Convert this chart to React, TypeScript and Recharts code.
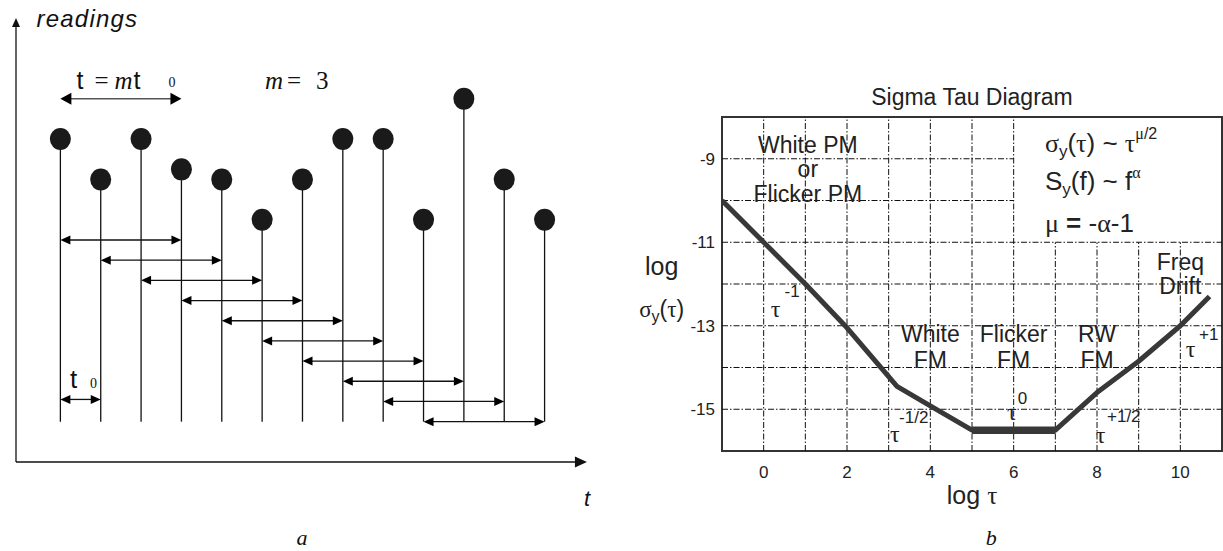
import React from 'react';
import {
  ComposedChart,
  Scatter,
  Line,
  XAxis,
  YAxis,
  ReferenceLine,
  ReferenceDot,
  ReferenceArea,
} from 'recharts';

// ---------------- panel a : readings ----------------
const sampleIndex = [0, 1, 2, 3, 4, 5, 6, 7, 8, 9, 10, 11, 12];
const readings = [8, 7, 8, 7.25, 7, 6, 7, 8, 8, 6, 9, 7, 6];
const stemBase = 1;
const spanLevels = [5.5, 5, 4.5, 4, 3.5, 3, 2.5, 2, 1.5, 1];
const m = 3;
const tau0Level = 1.55;
const tauLevel = 9;
const axisAX = [-1.1, 13.05];
const axisAY = [0, 11];

// ---------------- panel b : sigma tau ----------------
const logTau = [-1, 0, 1, 2, 3.2, 4, 5, 7, 8, 9, 10, 10.7];
const logSigma = [-10, -11, -12, -13.05, -14.45, -14.92, -15.5, -15.5, -14.6, -13.85, -13, -12.3];
const flatTau = [5, 7];
const flatSigma = [-15.5, -15.5];
const xTicks = [0, 2, 4, 6, 8, 10];
const yTicks = [-15, -13, -11, -9];
const gridXFull = [0, 1, 2, 3, 4, 5, 6];
const gridXLower = [7, 8, 9, 10];
const gridYFull = [-11, -12, -13, -14, -15];
const gridYLeft = [-9, -10];
const xDomainB = [-1, 11];
const yDomainB = [-16, -8];

const SANS = '"Liberation Sans", Arial, sans-serif';
const SERIF = '"Liberation Serif", "Times New Roman", serif';

const dotsA = sampleIndex.map((i) => ({ x: i, y: readings[i] }));
const curveB = logTau.map((t, i) => ({ x: t, y: logSigma[i] }));
const flatB = flatTau.map((t, i) => ({ x: t, y: flatSigma[i] }));

// regime labels (data coordinates: log tau, log sigma)
const regimeLabels = [
  { x: 1.06, y: -8.855, text: 'White PM' },
  { x: 1.06, y: -9.43, text: 'or' },
  { x: 1.06, y: -10.03, text: 'Flicker PM' },
  { x: 4, y: -13.38, text: 'White' },
  { x: 4, y: -14.01, text: 'FM' },
  { x: 6, y: -13.38, text: 'Flicker' },
  { x: 6, y: -14.01, text: 'FM' },
  { x: 8, y: -13.38, text: 'RW' },
  { x: 8, y: -14.01, text: 'FM' },
  { x: 10, y: -11.66, text: 'Freq' },
  { x: 10, y: -12.24, text: 'Drift' },
];

const slopeLabels = [
  { tx: 0.17, ty: -12.78, ex: 0.5, ey: -12.3, exp: '-1' },
  { tx: 3.03, ty: -15.78, ex: 3.25, ey: -15.32, exp: '-1/2' },
  { tx: 5.84, ty: -15.26, ex: 6.1, ey: -14.87, exp: '0' },
  { tx: 7.97, ty: -15.81, ex: 8.24, ey: -15.3, exp: '+1/2' },
  { tx: 10.13, ty: -13.74, ex: 10.45, ey: -13.34, exp: '+1' },
];

const hArrow = (color: string, width: number, head: number, half: number) => (p: any) => {
  const a = Math.min(p.x1, p.x2);
  const b = Math.max(p.x1, p.x2);
  const y = p.y1;
  return (
    <g>
      <line x1={a + head - 1} y1={y} x2={b - head + 1} y2={y} stroke={color} strokeWidth={width} />
      <polygon points={`${a},${y} ${a + head},${y - half} ${a + head},${y + half}`} fill="#000" />
      <polygon points={`${b},${y} ${b - head},${y - half} ${b - head},${y + half}`} fill="#000" />
    </g>
  );
};

const rightArrow = (color: string, width: number, head: number, half: number) => (p: any) => {
  const a = Math.min(p.x1, p.x2);
  const b = Math.max(p.x1, p.x2);
  const y = p.y1;
  return (
    <g>
      <line x1={a} y1={y} x2={b - head + 1} y2={y} stroke={color} strokeWidth={width} />
      <polygon points={`${b},${y} ${b - head},${y - half} ${b - head},${y + half}`} fill={color} />
    </g>
  );
};

const upArrow = (color: string, width: number, head: number, half: number) => (p: any) => {
  const top = Math.min(p.y1, p.y2);
  const bot = Math.max(p.y1, p.y2);
  const x = p.x1;
  return (
    <g>
      <line x1={x} y1={bot} x2={x} y2={top + head - 1} stroke={color} strokeWidth={width} />
      <polygon points={`${x},${top} ${x - half},${top + head} ${x + half},${top + head}`} fill={color} />
    </g>
  );
};

const note = (render: (cx: number, cy: number) => React.ReactNode) => (p: any) => (
  <g>{render(p.cx, p.cy)}</g>
);

function PanelA() {
  return (
    <ComposedChart
      width={620}
      height={551}
      margin={{ top: 18, right: 27, bottom: 89, left: 16 }}
      data={dotsA}
    >
      <XAxis dataKey="x" type="number" domain={[-1.1, 13.2]} allowDataOverflow hide height={0} />
      <YAxis dataKey="y" type="number" domain={[0, 11]} allowDataOverflow hide width={0} />

      {/* axes with arrows */}
      <ReferenceLine
        ifOverflow="visible"
        segment={[{ x: axisAX[0], y: axisAY[0] }, { x: axisAX[0], y: axisAY[1] }]}
        shape={upArrow('#111', 1.3, 9, 4)}
      />
      <ReferenceLine
        ifOverflow="visible"
        segment={[{ x: axisAX[0], y: axisAY[0] }, { x: axisAX[1], y: axisAY[0] }]}
        shape={rightArrow('#111', 1.3, 12, 5.5)}
      />

      {/* stems */}
      {sampleIndex.map((i) => (
        <ReferenceLine
          key={'s' + i}
          ifOverflow="visible"
          segment={[{ x: i, y: stemBase }, { x: i, y: readings[i] }]}
          stroke="#111"
          strokeWidth={1.3}
        />
      ))}

      {/* overlapping spans of m samples */}
      {spanLevels.map((lv, i) => (
        <ReferenceLine
          key={'a' + i}
          ifOverflow="visible"
          segment={[{ x: i, y: lv }, { x: i + m, y: lv }]}
          shape={hArrow('#111', 1.3, 10, 4.5)}
        />
      ))}

      {/* tau0 arrow */}
      <ReferenceLine
        ifOverflow="visible"
        segment={[{ x: 0, y: tau0Level }, { x: 1, y: tau0Level }]}
        shape={hArrow('#111', 1.3, 10, 4.5)}
      />
      {/* tau = m tau0 arrow */}
      <ReferenceLine
        ifOverflow="visible"
        segment={[{ x: 0, y: tauLevel }, { x: m, y: tauLevel }]}
        shape={hArrow('#555', 1.6, 11, 6)}
      />

      <Scatter
        data={dotsA}
        dataKey="y"
        isAnimationActive={false}
        shape={(p: any) => <ellipse cx={p.cx} cy={p.cy} rx={10.5} ry={11} fill="#1a1a1a" />}
      />

      {/* texts */}
      <ReferenceDot
        x={-0.59}
        y={10.77}
        r={0}
        ifOverflow="visible"
        shape={note((cx, cy) => (
          <text x={cx} y={cy} fontFamily={SANS} fontStyle="italic" fontSize={24} letterSpacing={1.2} fill="#111">
            readings
          </text>
        ))}
      />
      <ReferenceDot
        x={0.4}
        y={9.24}
        r={0}
        ifOverflow="visible"
        shape={note((cx, cy) => (
          <g fill="#111">
            <text x={cx} y={cy} fontFamily={SANS} fontSize={25}>t</text>
            <text x={cx + 18} y={cy} fontFamily={SERIF} fontSize={25}>=</text>
            <text x={cx + 38} y={cy} fontFamily={SERIF} fontStyle="italic" fontSize={25}>m</text>
            <text x={cx + 57} y={cy} fontFamily={SANS} fontSize={25}>t</text>
            <text x={cx + 92} y={cy - 2} fontFamily={SERIF} fontSize={14}>0</text>
          </g>
        ))}
      />
      <ReferenceDot
        x={5.07}
        y={9.24}
        r={0}
        ifOverflow="visible"
        shape={note((cx, cy) => (
          <g fill="#111" fontFamily={SERIF} fontSize={25}>
            <text x={cx} y={cy} fontStyle="italic">m</text>
            <text x={cx + 22} y={cy}>=</text>
            <text x={cx + 51} y={cy}>3</text>
          </g>
        ))}
      />
      <ReferenceDot
        x={0.24}
        y={1.83}
        r={0}
        ifOverflow="visible"
        shape={note((cx, cy) => (
          <g fill="#111">
            <text x={cx} y={cy} fontFamily={SANS} fontSize={26}>t</text>
            <text x={cx + 20} y={cy} fontFamily={SERIF} fontSize={14}>0</text>
          </g>
        ))}
      />
      <ReferenceDot
        x={13.05}
        y={-1.09}
        r={0}
        ifOverflow="visible"
        shape={note((cx, cy) => (
          <text x={cx} y={cy} textAnchor="middle" fontFamily={SANS} fontStyle="italic" fontSize={22} fill="#111">
            t
          </text>
        ))}
      />
      <ReferenceDot
        x={5.99}
        y={-2.06}
        r={0}
        ifOverflow="visible"
        shape={note((cx, cy) => (
          <text x={cx} y={cy} textAnchor="middle" fontFamily={SERIF} fontStyle="italic" fontSize={22} fill="#111">
            a
          </text>
        ))}
      />
    </ComposedChart>
  );
}

const gridStyle = { stroke: '#111', strokeWidth: 1, strokeDasharray: '6 2 1.5 2' };

function PanelB() {
  return (
    <ComposedChart width={623} height={551} margin={{ top: 117, right: 1, bottom: 0, left: 0 }}>
      <XAxis
        dataKey="x"
        type="number"
        domain={xDomainB}
        ticks={xTicks}
        allowDataOverflow
        height={100}
        axisLine={false}
        tickLine={false}
        tickSize={0}
        tickMargin={15}
        tick={{ fontFamily: SANS, fontSize: 17, fill: '#222' }}
      />
      <YAxis
        type="number"
        domain={yDomainB}
        ticks={yTicks}
        allowDataOverflow
        width={122}
        axisLine={false}
        tickLine={false}
        tickSize={0}
        tickMargin={7}
        tick={{ fontFamily: SANS, fontSize: 17, fill: '#222' }}
      />

      {/* dash-dot grid */}
      {gridXFull.map((x) => (
        <ReferenceLine key={'gx' + x} ifOverflow="visible" segment={[{ x, y: yDomainB[0] }, { x, y: yDomainB[1] }]} {...gridStyle} />
      ))}
      {gridXLower.map((x) => (
        <ReferenceLine key={'gl' + x} ifOverflow="visible" segment={[{ x, y: yDomainB[0] }, { x, y: -11 }]} {...gridStyle} />
      ))}
      {gridYFull.map((y) => (
        <ReferenceLine key={'gy' + y} ifOverflow="visible" segment={[{ x: xDomainB[0], y }, { x: xDomainB[1], y }]} {...gridStyle} />
      ))}
      {gridYLeft.map((y) => (
        <ReferenceLine key={'gt' + y} ifOverflow="visible" segment={[{ x: xDomainB[0], y }, { x: 6, y }]} {...gridStyle} />
      ))}

      <ReferenceArea
        x1={xDomainB[0]}
        x2={xDomainB[1]}
        y1={yDomainB[0]}
        y2={yDomainB[1]}
        ifOverflow="visible"
        fill="none"
        fillOpacity={0}
        stroke="#333"
        strokeWidth={2}
      />

      <Line
        data={curveB}
        dataKey="y"
        type="linear"
        stroke="#383838"
        strokeWidth={5}
        strokeLinejoin="round"
        dot={false}
        activeDot={false}
        isAnimationActive={false}
      />
      <Line
        data={flatB}
        dataKey="y"
        type="linear"
        stroke="#383838"
        strokeWidth={7.5}
        dot={false}
        activeDot={false}
        isAnimationActive={false}
      />

      {/* title */}
      <ReferenceDot
        x={5}
        y={-7.71}
        r={0}
        ifOverflow="visible"
        shape={note((cx, cy) => (
          <text x={cx} y={cy} textAnchor="middle" fontFamily={SANS} fontSize={23} fill="#222">
            Sigma Tau Diagram
          </text>
        ))}
      />

      {/* regime labels */}
      {regimeLabels.map((l, i) => (
        <ReferenceDot
          key={'r' + i}
          x={l.x}
          y={l.y}
          r={0}
          ifOverflow="visible"
          shape={note((cx, cy) => (
            <text x={cx} y={cy} textAnchor="middle" fontFamily={SANS} fontSize={23} fill="#222">
              {l.text}
            </text>
          ))}
        />
      ))}

      {/* slope labels */}
      {slopeLabels.map((s, i) => (
        <React.Fragment key={'t' + i}>
          <ReferenceDot
            x={s.tx}
            y={s.ty}
            r={0}
            ifOverflow="visible"
            shape={note((cx, cy) => (
              <text x={cx} y={cy} fontFamily={SERIF} fontSize={24} fill="#222">τ</text>
            ))}
          />
          <ReferenceDot
            x={s.ex}
            y={s.ey}
            r={0}
            ifOverflow="visible"
            shape={note((cx, cy) => (
              <text x={cx} y={cy} fontFamily={SANS} fontSize={17} fill="#222">{s.exp}</text>
            ))}
          />
        </React.Fragment>
      ))}

      {/* relations */}
      <ReferenceDot
        x={6.75}
        y={-8.84}
        r={0}
        ifOverflow="visible"
        shape={note((cx, cy) => (
          <text x={cx} y={cy} fontSize={26} fill="#222" fontFamily={SANS}>
            <tspan fontFamily={SERIF}>σ</tspan>
            <tspan fontSize={17} dy={5}>y</tspan>
            <tspan dy={-5}>(</tspan>
            <tspan fontFamily={SERIF}>τ</tspan>
            <tspan>{') ~ '}</tspan>
            <tspan fontFamily={SERIF}>τ</tspan>
            <tspan fontSize={16} dy={-13} fontFamily={SERIF}>μ</tspan>
            <tspan fontSize={16}>/2</tspan>
          </text>
        ))}
      />
      <ReferenceDot
        x={6.75}
        y={-9.75}
        r={0}
        ifOverflow="visible"
        shape={note((cx, cy) => (
          <text x={cx} y={cy} fontSize={26} fill="#222" fontFamily={SANS}>
            <tspan>S</tspan>
            <tspan fontSize={17} dy={5}>y</tspan>
            <tspan dy={-5}>{'(f) ~ f'}</tspan>
            <tspan fontSize={16} dy={-12} fontFamily={SERIF}>α</tspan>
          </text>
        ))}
      />
      <ReferenceDot
        x={6.75}
        y={-10.75}
        r={0}
        ifOverflow="visible"
        shape={note((cx, cy) => (
          <text x={cx} y={cy} fontSize={26} fill="#222" fontFamily={SANS}>
            <tspan fontFamily={SERIF}>μ</tspan>
            <tspan fontWeight="bold">{' = '}</tspan>
            <tspan>-</tspan>
            <tspan fontFamily={SERIF}>α</tspan>
            <tspan>-1</tspan>
          </text>
        ))}
      />

      {/* axis titles */}
      <ReferenceDot
        x={-2.447}
        y={-11.78}
        r={0}
        ifOverflow="visible"
        shape={note((cx, cy) => (
          <text x={cx} y={cy} textAnchor="middle" fontFamily={SANS} fontSize={25} fill="#222">log</text>
        ))}
      />
      <ReferenceDot
        x={-2.447}
        y={-12.79}
        r={0}
        ifOverflow="visible"
        shape={note((cx, cy) => (
          <text x={cx} y={cy} textAnchor="middle" fontSize={23} fill="#222" fontFamily={SANS}>
            <tspan fontFamily={SERIF}>σ</tspan>
            <tspan fontSize={16} dy={5}>y</tspan>
            <tspan dy={-5}>(</tspan>
            <tspan fontFamily={SERIF}>τ</tspan>
            <tspan>)</tspan>
          </text>
        ))}
      />
      <ReferenceDot
        x={5}
        y={-17.27}
        r={0}
        ifOverflow="visible"
        shape={note((cx, cy) => (
          <text x={cx} y={cy} textAnchor="middle" fontSize={25} fill="#222" fontFamily={SANS}>
            {'log '}
            <tspan fontFamily={SERIF}>τ</tspan>
          </text>
        ))}
      />
      <ReferenceDot
        x={5.46}
        y={-18.25}
        r={0}
        ifOverflow="visible"
        shape={note((cx, cy) => (
          <text x={cx} y={cy} textAnchor="middle" fontFamily={SERIF} fontStyle="italic" fontSize={22} fill="#111">
            b
          </text>
        ))}
      />
    </ComposedChart>
  );
}

export default function App() {
  return (
    <div style={{ position: 'absolute', left: 0, top: 0, width: 1223, height: 551, background: '#fff', overflow: 'hidden' }}>
      <div style={{ position: 'absolute', left: 0, top: 0 }}>
        <PanelA />
      </div>
      <div style={{ position: 'absolute', left: 600, top: 0 }}>
        <PanelB />
      </div>
    </div>
  );
}
